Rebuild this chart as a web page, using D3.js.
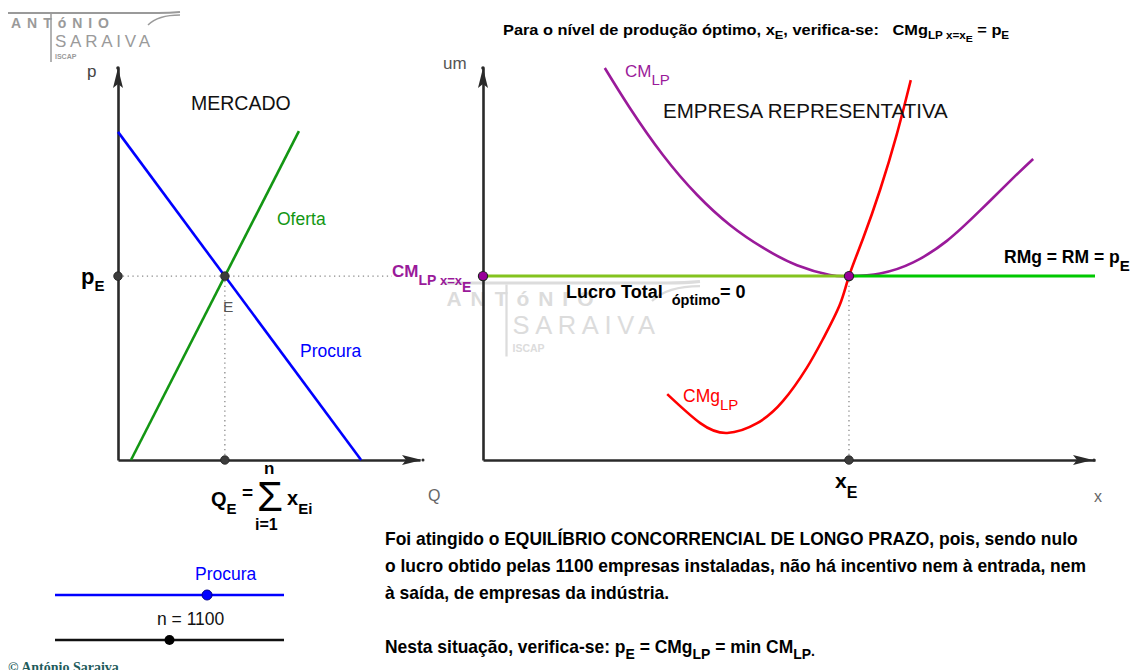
<!DOCTYPE html>
<html><head><meta charset="utf-8">
<script src="https://cdn.jsdelivr.net/npm/d3@7"></script>
<style>body{margin:0;background:#fff}svg{display:block}text{white-space:pre}</style>
</head><body>
<svg id="c" width="1136" height="670"></svg>
<script>
// ---------------- DATA ----------------
// Market (left panel): [Q, p] in chart units
const marketDemand = [[0, 83.7], [80.5, 0]];
const marketSupply = [[4.3, 0], [59.9, 83.9]];
// Representative firm (right panel): [x, cost] in chart units
const firmAvgCost = [[19.9,100],[24.0,89.8],[29.4,77.8],[35.0,67.6],[40.4,59.9],[45.8,54.1],[51.3,49.7],[56.7,47.2],[59.8,46.9],[64.9,47.6],[70.3,50.4],[75.8,55.9],[81.2,63.6],[86.6,71.9],[89.9,76.8]];
const firmMarginalCost = [[30.1,16.8],[35.5,9.4],[39.9,6.9],[44.8,9.4],[49.0,15.0],[52.9,23.5],[55.6,31.0],[58.3,39.6],[59.8,46.9],[62.1,56.5],[64.9,69.0],[67.6,83.0],[69.9,96.9]];
const firmXE = 59.8;
const firmCount = 1100;
const firmCountRange = [100, 2100];
const demandSliderValue = 0.664;
const bodyLines = [
  "Foi atingido o EQUILÍBRIO CONCORRENCIAL DE LONGO PRAZO, pois, sendo nulo",
  "o lucro obtido pelas " + firmCount + " empresas instaladas, não há incentivo nem à entrada, nem",
  "à saída, de empresas da indústria."
];

// ---------------- SETUP ----------------
const FONT = "'Liberation Sans', Arial, sans-serif";
const NARROW = "'Liberation Sans Narrow', 'Liberation Sans', Arial, sans-serif";
const svg = d3.select('#c');
const AXIS = '#2a2a2a';

const lx = d3.scaleLinear([0, 100], [118, 420]);
const ly = d3.scaleLinear([0, 100], [460, 68]);
const rx = d3.scaleLinear([0, 100], [483, 1095]);
const ry = ly;

function rich(g, x, y, parts, o) {
  o = o || {};
  const t = g.append('text').attr('x', x).attr('y', y)
    .attr('font-family', o.family || FONT)
    .attr('font-weight', o.weight || 'normal')
    .attr('fill', o.fill || '#000');
  let cur = 0;
  parts.forEach(p => {
    const off = p[2] || 0;
    const ts = t.append('tspan').attr('font-size', p[1]).text(p[0]);
    if (off - cur) ts.attr('dy', off - cur);
    if (p[3]) ts.attr('dx', p[3]);
    cur = off;
  });
  return t;
}
function scaleX(sel, x0, k) {
  sel.attr('transform', `translate(${x0},0) scale(${k},1) translate(${-x0},0)`);
}
function label(g, x, y, size, fill, str, weight) {
  return g.append('text').attr('x', x).attr('y', y).attr('font-family', FONT).attr('font-size', size)
    .attr('font-weight', weight || 'normal').attr('fill', fill).text(str);
}

// ---------------- LOGOS / WATERMARKS ----------------
function logo(g, x, y, s, col) {
  const L = g.append('g').attr('transform', `translate(${x},${y}) scale(${s})`);
  L.append('path').attr('d', 'M0,0 L150,0 Q162,0 172,-1').attr('stroke', col).attr('stroke-width', 2).attr('fill', 'none');
  L.append('path').attr('d', 'M140,12 Q150,2 172,2').attr('stroke', col).attr('stroke-width', 1.5).attr('fill', 'none');
  L.append('line').attr('x1', 43).attr('x2', 43).attr('y1', 1).attr('y2', 49).attr('stroke', col).attr('stroke-width', 1.5);
  L.append('text').attr('x', 3).attr('y', 15).attr('font-family', FONT).attr('font-weight', 'bold').attr('font-size', 14)
    .attr('fill', col).attr('textLength', 98).attr('lengthAdjust', 'spacing').text('ANTóNIO');
  L.append('text').attr('x', 47).attr('y', 34).attr('font-family', FONT).attr('font-size', 17)
    .attr('fill', col).attr('textLength', 95).attr('lengthAdjust', 'spacing').text('SARAIVA');
  L.append('text').attr('x', 47).attr('y', 46).attr('font-family', FONT).attr('font-weight', 'bold').attr('font-size', 7)
    .attr('fill', col).text('ISCAP');
}
logo(svg, 8, 13, 1, '#9a9a9a');
logo(svg, 442, 283, 1.5, '#dcdcdc');

// ---------------- TITLE ----------------
const title = rich(svg, 503, 35, [
  ['Para o nível de produção óptimo, x', 14], ['E', 11, 4], [', verifica-se:   CMg', 14, 0],
  ['LP x=x', 10, 4], ['E', 9, 7], [' = p', 14, 0], ['E', 10, 4]
], { family: NARROW, weight: 'bold' });
scaleX(title, 503, 507 / title.node().getBBox().width);

// ---------------- LEFT PANEL: MERCADO ----------------
const L = svg.append('g');
const lq = (() => { // intersection of demand & supply
  const [a0, a1] = marketDemand, [b0, b1] = marketSupply;
  const md = (a1[1] - a0[1]) / (a1[0] - a0[0]), ms = (b1[1] - b0[1]) / (b1[0] - b0[0]);
  const q = (b0[1] - ms * b0[0] - (a0[1] - md * a0[0])) / (md - ms);
  return [q, a0[1] + md * (q - a0[0])];
})();
const pE = lq[1];
L.append('line').attr('x1', lx(0)).attr('x2', 392).attr('y1', ly(pE)).attr('y2', ly(pE))
  .attr('stroke', '#8a8a8a').attr('stroke-width', 1.3).attr('stroke-dasharray', '1.3,3.5');
L.append('line').attr('x1', lx(lq[0])).attr('x2', lx(lq[0])).attr('y1', ly(pE)).attr('y2', ly(0))
  .attr('stroke', '#8a8a8a').attr('stroke-width', 1.3).attr('stroke-dasharray', '1.3,3.5');

const axStyle = g => g.call(s => s.select('.domain').attr('stroke', AXIS).attr('stroke-width', 2.6));
L.append('g').attr('transform', `translate(0,${ly(0)})`)
  .call(d3.axisBottom(lx).tickValues([]).tickSizeOuter(0)).call(axStyle);
L.append('g').attr('transform', `translate(${lx(0)},0)`)
  .call(d3.axisLeft(ly).tickValues([]).tickSizeOuter(0)).call(axStyle);
function arrowRight(g, x, y) {
  g.append('path').attr('d', `M${x},${y} L${x - 20},${y - 5} L${x - 16},${y} L${x - 20},${y + 5} Z`).attr('fill', AXIS);
  g.append('circle').attr('cx', x + 1).attr('cy', y).attr('r', 1.5).attr('fill', AXIS);
}
function arrowUp(g, x, y) {
  g.append('path').attr('d', `M${x},${y} L${x - 5},${y + 20} L${x},${y + 16} L${x + 5},${y + 20} Z`).attr('fill', AXIS);
  g.append('circle').attr('cx', x).attr('cy', y).attr('r', 1.8).attr('fill', AXIS);
}
arrowRight(L, lx(100) + 2, ly(0));
arrowUp(L, lx(0), ly(100));

const line = d3.line().x(d => lx(d[0])).y(d => ly(d[1]));
L.append('path').attr('d', line(marketSupply)).attr('stroke', '#139613').attr('stroke-width', 2.6).attr('fill', 'none');
L.append('path').attr('d', line(marketDemand)).attr('stroke', '#0000ff').attr('stroke-width', 2.6).attr('fill', 'none');

[[0, pE], [lq[0], pE], [lq[0], 0]].forEach(d =>
  L.append('circle').attr('cx', lx(d[0])).attr('cy', ly(d[1])).attr('r', 4.3).attr('fill', '#3c3c3c').attr('stroke', '#222').attr('stroke-width', 0.8));

label(L, 87, 77, 17, '#444', 'p');
label(L, 428, 501, 16, '#666', 'Q');
label(L, 191, 110, 19.5, '#111', 'MERCADO');
label(L, 277, 225, 17.5, '#129612', 'Oferta');
label(L, 300, 357, 17.5, '#0000ff', 'Procura');
label(L, 223, 312, 15.5, '#555', 'E');
rich(L, 81, 284, [['p', 22], ['E', 15, 7]], { weight: 'bold' });
// Q_E = sum formula
rich(L, 211, 506, [['Q', 20], ['E', 15, 8]], { weight: 'bold' });
label(L, 242, 499, 19, '#000', '=', 'bold');
label(L, 257, 511, 42, '#000', 'Σ');
label(L, 264, 474, 17, '#000', 'n', 'bold');
label(L, 255, 530, 16, '#000', 'i=1', 'bold');
rich(L, 287, 505, [['x', 20], ['E', 15, 9], ['i', 15, 9]], { weight: 'bold' });

// ---------------- RIGHT PANEL: EMPRESA ----------------
const R = svg.append('g');
R.append('line').attr('x1', rx(firmXE)).attr('x2', rx(firmXE)).attr('y1', ry(pE)).attr('y2', ry(0))
  .attr('stroke', '#8a8a8a').attr('stroke-width', 1.3).attr('stroke-dasharray', '1.3,3.5');
R.append('g').attr('transform', `translate(0,${ry(0)})`)
  .call(d3.axisBottom(rx).tickValues([]).tickSizeOuter(0)).call(axStyle);
R.append('g').attr('transform', `translate(${rx(0)},0)`)
  .call(d3.axisLeft(ry).tickValues([]).tickSizeOuter(0)).call(axStyle);
arrowRight(R, rx(100) - 2, ry(0));
arrowUp(R, rx(0), ry(100));

const curve = d3.line().x(d => rx(d[0])).y(d => ry(d[1])).curve(d3.curveNatural);
R.append('path').attr('d', curve(firmAvgCost)).attr('stroke', '#9a1a9a').attr('stroke-width', 2.6).attr('fill', 'none');
R.append('path').attr('d', curve(firmMarginalCost)).attr('stroke', '#ff0000').attr('stroke-width', 2.6).attr('fill', 'none');
R.append('line').attr('x1', rx(0)).attr('x2', rx(firmXE)).attr('y1', ry(pE)).attr('y2', ry(pE)).attr('stroke', '#84c31f').attr('stroke-width', 3);
R.append('line').attr('x1', rx(firmXE)).attr('x2', rx(100)).attr('y1', ry(pE)).attr('y2', ry(pE)).attr('stroke', '#00c800').attr('stroke-width', 3);

R.append('circle').attr('cx', rx(firmXE)).attr('cy', ry(0)).attr('r', 4.3).attr('fill', '#3c3c3c').attr('stroke', '#222').attr('stroke-width', 0.8);
[[0, pE], [firmXE, pE]].forEach(d =>
  R.append('circle').attr('cx', rx(d[0])).attr('cy', ry(d[1])).attr('r', 4.6).attr('fill', '#990099').attr('stroke', '#222').attr('stroke-width', 1.2));

label(R, 443, 69, 17, '#555', 'um');
label(R, 1094, 502, 16, '#666', 'x');
label(R, 663, 118, 20.5, '#111', 'EMPRESA REPRESENTATIVA');
rich(R, 625, 77, [['CM', 17], ['LP', 15, 8]], { fill: '#9a1a9a' });
rich(R, 683, 402, [['CMg', 17.5], ['LP', 15, 8]], { fill: '#ff0000' });
rich(R, 1004, 263, [['RMg = RM = p', 17.5], ['E', 15, 8]], { weight: 'bold' });
rich(R, 566, 298, [['Lucro Total', 18], ['óptimo', 14.5, 7, 9], ['= 0', 18, 0]], { weight: 'bold' });
rich(R, 392, 277, [['CM', 17], ['LP', 14, 8], [' x=x', 13, 8], ['E', 14, 15]], { weight: 'bold', fill: '#9a1a9a' });
rich(R, 835, 488, [['x', 21], ['E', 16, 10]], { weight: 'bold' });

// ---------------- SLIDERS ----------------
const S = svg.append('g');
const sx = d3.scaleLinear([0, 1], [55, 284]);
const nx = d3.scaleLinear(firmCountRange, [55, 284]);
label(S, 195, 580, 17.5, '#0000ff', 'Procura');
S.append('line').attr('x1', sx(0)).attr('x2', sx(1)).attr('y1', 595).attr('y2', 595).attr('stroke', '#0000ff').attr('stroke-width', 2.6);
S.append('circle').attr('cx', sx(demandSliderValue)).attr('cy', 595).attr('r', 5).attr('fill', '#0000ff').attr('stroke', '#00008a');
label(S, 157, 625, 17.5, '#111', 'n = ' + firmCount);
S.append('line').attr('x1', nx(firmCountRange[0])).attr('x2', nx(firmCountRange[1])).attr('y1', 640).attr('y2', 640).attr('stroke', '#111').attr('stroke-width', 2.6);
S.append('circle').attr('cx', nx(firmCount)).attr('cy', 640).attr('r', 5).attr('fill', '#000');
S.append('text').attr('x', 8).attr('y', 672).attr('font-family', "'Liberation Serif', serif").attr('font-weight', 'bold')
  .attr('font-size', 14).attr('fill', '#1f5c5c').text('© António Saraiva');

// ---------------- BODY TEXT ----------------
const B = svg.append('g');
const t0 = B.append('text').attr('x', 385).attr('y', 545).attr('font-family', NARROW).attr('font-weight', 'bold').attr('font-size', 17.5).text(bodyLines[0]);
const k = 693 / t0.node().getBBox().width;
scaleX(t0, 385, k);
[572, 599].forEach((y, i) => {
  const t = B.append('text').attr('x', 385).attr('y', y).attr('font-family', NARROW).attr('font-weight', 'bold').attr('font-size', 17.5).text(bodyLines[i + 1]);
  scaleX(t, 385, k);
});
const t4 = rich(B, 385, 653, [['Nesta situação, verifica-se: p', 17.5], ['E', 14, 6], [' = CMg', 17.5, 0], ['LP', 14, 6], [' = min CM', 17.5, 0], ['LP', 14, 6], ['.', 14, 3]], { family: NARROW, weight: 'bold' });
scaleX(t4, 385, k);
</script>
</body></html>
